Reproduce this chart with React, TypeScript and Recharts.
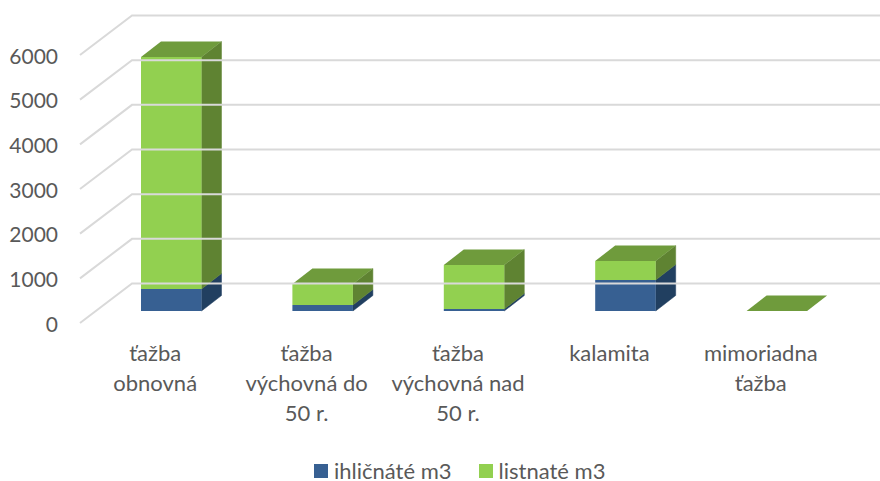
import { BarChart, Bar, XAxis, YAxis, Legend } from "recharts";

const categories = [
  "ťažba\nobnovná",
  "ťažba\nvýchovná do\n50 r.",
  "ťažba\nvýchovná nad\n50 r.",
  "kalamita",
  "mimoriadna\nťažba",
];
const ihlicnate = [497, 145, 55, 705, 0];
const listnate = [5200, 470, 985, 410, 0];
const yTicks = [0, 1000, 2000, 3000, 4000, 5000, 6000];

const data = categories.map((name, i) => ({ name, ihlicnate: ihlicnate[i], listnate: listnate[i] }));

const FONT = "Lato, sans-serif";
const TEXT = "#595959";
const GRID = "#d9d9d9";
const BLUE = { front: "#376092", side: "#213f60", top: "#2c5078" };
const GREEN = { front: "#92d050", side: "#5f8332", top: "#6f9b3c" };
// depth of the bars
const DX = 20;
const DY = -15.5;

function YTick({ y, payload }: any) {
  // wall lines hang off the axis scale
  const fy = y + 12;
  const by = y - 27.5;
  return (
    <g>
      <polyline points={`80,${fy} 132,${by} 880,${by}`} fill="none" stroke={GRID} strokeWidth={2} />
      <text x={58} y={fy + 8.5} textAnchor="end" fontFamily={FONT} fontSize={21} fill={TEXT}>
        {payload.value}
      </text>
    </g>
  );
}

function XTick({ x, payload }: any) {
  const lines = String(payload.value).split("\n");
  return (
    <text x={x - 16.5} y={361} textAnchor="middle" fontFamily={FONT} fontSize={22} fill={TEXT}>
      {lines.map((l: string, i: number) => (
        <tspan key={i} x={x - 16.5} dy={i === 0 ? 0 : 30}>
          {l}
        </tspan>
      ))}
    </text>
  );
}

function box3d(colors: typeof BLUE, withTop: boolean) {
  return (props: any) => {
    const { x, width, height } = props;
    // snap to whole pixels so stacked segments share an edge
    const y = Math.round(props.y);
    const b = Math.round(props.y + height);
    const r = x + width;
    return (
      <g>
        {height > 0 && (
          <path
            d={`M${r},${y} L${r + DX},${y + DY} L${r + DX},${b + DY} L${r},${b} Z`}
            fill={colors.side}
            stroke={colors.side}
            strokeWidth={0.5}
          />
        )}
        <rect x={x} y={y} width={width} height={b - y} fill={colors.front} />
        {withTop && (
          <path d={`M${x},${y} L${x + DX},${y + DY} L${r + DX},${y + DY} L${r},${y} Z`} fill={colors.top} />
        )}
      </g>
    );
  };
}

function LegendRow({ payload }: any) {
  return (
    <div style={{ display: "flex", alignItems: "center", height: 20, lineHeight: "20px", paddingLeft: 314, fontFamily: FONT, fontSize: 22, color: TEXT }}>
      {(payload || []).map((p: any) => (
        <div key={p.value} style={{ display: "flex", alignItems: "center", marginRight: 27 }}>
          <span style={{ width: 14, height: 14, background: p.color, marginRight: 6 }} />
          <span style={{ display: "block", height: 20 }}>{p.value}</span>
        </div>
      ))}
    </div>
  );
}

export default function App() {
  return (
    <div style={{ position: "absolute", left: 0, top: 0 }}>
      <BarChart
        width={880}
        height={481}
        data={data}
        margin={{ top: 43, right: 27, bottom: 0, left: 0 }}
        barSize={60.5}
        style={{ background: "#fff" }}
      >
        <YAxis
          width={96}
          domain={[0, 6000]}
          ticks={yTicks}
          axisLine={false}
          tickLine={false}
          tick={<YTick />}
          interval={0}
        />
        <XAxis dataKey="name" height={150} axisLine={false} tickLine={false} tick={<XTick />} interval={0} />
        <Bar dataKey="ihlicnate" name="ihličnáté m3" stackId="a" fill={BLUE.front} shape={box3d(BLUE, false)} isAnimationActive={false} />
        <Bar dataKey="listnate" name="listnaté m3" stackId="a" fill={GREEN.front} shape={box3d(GREEN, true)} isAnimationActive={false} />
        <Legend verticalAlign="bottom" content={<LegendRow />} wrapperStyle={{ left: 0, width: 880, top: 461 }} />
      </BarChart>
    </div>
  );
}
